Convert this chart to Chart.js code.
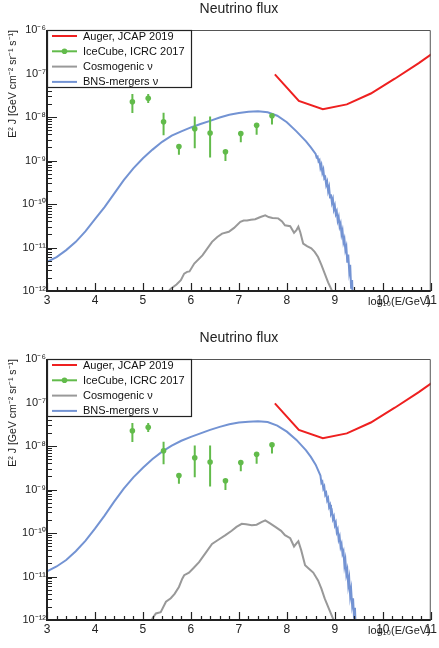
<!DOCTYPE html>
<html>
<head>
<meta charset="utf-8">
<script src="https://cdn.jsdelivr.net/npm/chart.js@4.4.1/dist/chart.umd.min.js"></script>
<style>
  html, body { margin: 0; padding: 0; background: #fff; width: 439px; height: 648px; overflow: hidden; }
  canvas { position: absolute; left: 0; }
  #fluxTop { top: 0; }
  #fluxBottom { top: 329px; }
</style>
</head>
<body>
<canvas id="fluxTop" width="439" height="324"></canvas>
<canvas id="fluxBottom" width="439" height="324"></canvas>
<script>
const FONT = '"Liberation Sans", Arial, Helvetica, sans-serif';
const plotTitle = 'Neutrino flux';
const seriesLabels = ['Auger, JCAP 2019', 'IceCube, ICRC 2017', 'Cosmogenic ν', 'BNS-mergers ν'];
const seriesColors = ['#ee2020', '#62bb4b', '#999999', '#7393d3'];
const xTickValues = [3, 4, 5, 6, 7, 8, 9, 10, 11];
const yTickExponents = [-12, -11, -10, -9, -8, -7, -6];
const xAxisTitle = 'log₁₀(E/GeV)';
const yAxisTitle = 'E² J [GeV cm⁻² sr⁻¹ s⁻¹]';

// All x values are log10(E/GeV), all flux values are log10(E^2 J / (GeV cm^-2 sr^-1 s^-1))

// Auger upper limit (same in both panels)
const augerLogE    = [7.75, 8.25, 8.75, 9.25, 9.75, 10.25, 10.75, 11.25];
const augerLogFlux = [-7.02, -7.63, -7.82, -7.71, -7.46, -7.12, -6.76, -6.37];

// IceCube points with their error ranges (same in both panels)
const iceLogE    = [4.78, 5.11, 5.43, 5.75, 6.08, 6.40, 6.72, 7.04, 7.37, 7.69];
const iceLogFlux = [-7.65, -7.57, -8.11, -8.68, -8.27, -8.37, -8.80, -8.38, -8.19, -7.97];
const iceLogHigh = [-7.47, -7.47, -7.90, -8.63, -7.99, -7.99, -8.76, -8.35, -8.16, -7.94];
const iceLogLow  = [-7.91, -7.68, -8.42, -8.87, -8.72, -8.93, -9.01, -8.58, -8.41, -8.17];

// Cosmogenic neutrinos, upper panel
const cosmoTopLogE = [5.50, 5.58, 5.70, 5.79, 5.86, 5.92, 5.97, 6.07, 6.24, 6.44, 6.55, 6.65, 6.79, 6.90,
  7.03, 7.10, 7.17, 7.25, 7.34, 7.45, 7.55, 7.62, 7.70, 7.82, 7.90, 7.96, 8.07, 8.15, 8.20, 8.24,
  8.28, 8.34, 8.42, 8.51, 8.58, 8.65, 8.72, 8.79, 8.86, 8.93, 8.97];
const cosmoTopLogFlux = [-12.05, -11.95, -11.85, -11.75, -11.60, -11.56, -11.55, -11.37, -11.18, -10.87, -10.76, -10.68, -10.64, -10.55,
  -10.41, -10.38, -10.38, -10.36, -10.35, -10.30, -10.26, -10.30, -10.32, -10.33, -10.40, -10.49, -10.51, -10.66, -10.60, -10.52,
  -10.65, -10.91, -10.97, -11.02, -11.10, -11.22, -11.40, -11.60, -11.80, -11.97, -12.10];

// Cosmogenic neutrinos, lower panel
const cosmoBottomLogE = [5.15, 5.20, 5.27, 5.37, 5.48, 5.58, 5.66, 5.75, 5.82, 5.86, 5.96, 6.06, 6.17, 6.30,
  6.44, 6.58, 6.72, 6.85, 6.95, 7.06, 7.15, 7.27, 7.37, 7.47, 7.55, 7.65, 7.76, 7.88, 7.96, 8.07,
  8.15, 8.20, 8.24, 8.30, 8.38, 8.46, 8.55, 8.65, 8.72, 8.79, 8.88, 8.96, 9.00];
const cosmoBottomLogFlux = [-12.10, -11.96, -11.85, -11.82, -11.58, -11.50, -11.40, -11.24, -11.05, -10.97, -10.91, -10.80, -10.67, -10.47,
  -10.25, -10.15, -10.05, -9.95, -9.86, -9.79, -9.80, -9.82, -9.81, -9.75, -9.71, -9.78, -9.86, -9.95, -10.05, -10.12,
  -10.31, -10.24, -10.19, -10.40, -10.74, -10.82, -10.91, -11.09, -11.28, -11.51, -11.75, -11.96, -12.10];

// BNS-merger neutrinos, upper panel
const bnsTopLogE = [3.0, 3.2, 3.4, 3.6, 3.8, 4.0, 4.2, 4.4, 4.6, 4.8, 5.0, 5.2, 5.4, 5.6, 5.8, 6.0, 6.2, 6.4, 6.6, 6.8,
  7.0, 7.2, 7.4, 7.6, 7.8, 8.0, 8.2, 8.4, 8.5, 8.6,
  8.62, 8.64, 8.66, 8.68, 8.70, 8.72, 8.74, 8.76, 8.78, 8.80,
  8.82, 8.84, 8.86, 8.88, 8.90, 8.92, 8.94, 8.96, 8.98, 9.00,
  9.02, 9.04, 9.06, 9.08, 9.10, 9.12, 9.14, 9.16, 9.18, 9.20,
  9.22, 9.24, 9.26, 9.28, 9.30, 9.32, 9.34, 9.36, 9.38];
const bnsTopLogFlux = [-11.33, -11.22, -11.06, -10.87, -10.63, -10.35, -10.07, -9.76, -9.45, -9.18, -8.95, -8.75, -8.57, -8.43, -8.33, -8.24, -8.16, -8.09, -8.01, -7.95,
  -7.91, -7.88, -7.87, -7.89, -7.97, -8.12, -8.33, -8.56, -8.70, -8.85,
  -8.93, -8.91, -9.02, -8.99, -9.17, -9.10, -9.28, -9.21, -9.41, -9.38,
  -9.56, -9.49, -9.70, -9.61, -9.85, -9.78, -9.97, -9.89, -10.12, -10.04,
  -10.23, -10.17, -10.38, -10.30, -10.52, -10.45, -10.70, -10.61, -10.88, -10.80,
  -11.06, -10.98, -11.35, -11.16, -11.55, -11.40, -11.95, -11.75, -12.40];

// BNS-merger neutrinos, lower panel
const bnsBottomLogE = [3.0, 3.2, 3.4, 3.6, 3.8, 4.0, 4.2, 4.4, 4.6, 4.8, 5.0, 5.2, 5.4, 5.6, 5.8, 6.0, 6.2, 6.4, 6.6, 6.8,
  7.0, 7.2, 7.4, 7.6, 7.8, 8.0, 8.2, 8.4, 8.5, 8.6, 8.7,
  8.72, 8.74, 8.76, 8.78, 8.80, 8.82, 8.84, 8.86, 8.88, 8.90,
  8.92, 8.94, 8.96, 8.98, 9.00, 9.02, 9.04, 9.06, 9.08, 9.10,
  9.12, 9.14, 9.16, 9.18, 9.20, 9.22, 9.24, 9.26, 9.28, 9.30,
  9.32, 9.34, 9.36, 9.38, 9.40, 9.42, 9.44];
const bnsBottomLogFlux = [-10.88, -10.77, -10.62, -10.42, -10.18, -9.90, -9.60, -9.28, -8.98, -8.72, -8.50, -8.30, -8.13, -7.99, -7.88, -7.79, -7.71, -7.63, -7.56, -7.50,
  -7.46, -7.44, -7.43, -7.45, -7.53, -7.67, -7.86, -8.10, -8.25, -8.43, -8.68,
  -8.85, -8.82, -8.98, -8.93, -9.12, -9.08, -9.25, -9.20, -9.40, -9.35,
  -9.55, -9.50, -9.68, -9.62, -9.82, -9.76, -9.98, -9.92, -10.15, -10.08,
  -10.32, -10.25, -10.48, -10.42, -10.75, -10.62, -10.95, -10.85, -11.20, -11.05,
  -11.45, -11.30, -11.65, -11.50, -11.95, -11.72, -12.40];

const SUP = { '-': '⁻', '0': '⁰', '1': '¹', '2': '²', '3': '³', '4': '⁴', '5': '⁵', '6': '⁶', '7': '⁷', '8': '⁸', '9': '⁹' };
const toSup = n => String(n).split('').map(c => SUP[c] || c).join('');
const toPoints = (xs, logs) => xs.map((x, i) => ({ x: x, y: Math.pow(10, logs[i]) }));

// Title above the frame, centred on the plot area
const titlePlugin = {
  id: 'panelTitle',
  afterDraw(chart) {
    const { ctx, chartArea: a } = chart;
    ctx.save();
    ctx.fillStyle = '#222';
    ctx.font = '14px ' + FONT;
    ctx.textAlign = 'center';
    ctx.textBaseline = 'middle';
    ctx.fillText(plotTitle, (a.left + a.right) / 2, 9);
    ctx.restore();
  }
};

// Vertical error bars for the IceCube points
const errorBarPlugin = {
  id: 'errorBars',
  afterDatasetsDraw(chart, args, opts) {
    const { ctx, scales: { x, y }, chartArea: a } = chart;
    ctx.save();
    ctx.beginPath();
    ctx.rect(a.left, a.top, a.right - a.left, a.bottom - a.top);
    ctx.clip();
    ctx.strokeStyle = opts.color;
    ctx.lineWidth = 2;
    opts.xs.forEach((xv, i) => {
      const px = x.getPixelForValue(xv);
      ctx.beginPath();
      ctx.moveTo(px, y.getPixelForValue(Math.pow(10, opts.high[i])));
      ctx.lineTo(px, y.getPixelForValue(Math.pow(10, opts.low[i])));
      ctx.stroke();
    });
    ctx.restore();
  }
};

// Frame and inward tick marks
const framePlugin = {
  id: 'frameTicks',
  afterDatasetsDraw(chart) {
    const { ctx, chartArea: a, scales: { x, y } } = chart;
    ctx.save();
    ctx.strokeStyle = '#555';
    ctx.lineWidth = 1;
    ctx.beginPath();
    ctx.moveTo(a.left, a.top + 0.5);
    ctx.lineTo(a.right - 0.5, a.top + 0.5);
    ctx.lineTo(a.right - 0.5, a.bottom);
    ctx.stroke();

    ctx.strokeStyle = '#222';
    ctx.lineWidth = 2;
    ctx.beginPath();
    ctx.moveTo(a.left, a.top);
    ctx.lineTo(a.left, a.bottom);
    ctx.lineTo(a.right, a.bottom);
    ctx.stroke();

    ctx.lineWidth = 1.2;
    ctx.beginPath();
    for (let v = x.min; v <= x.max + 1e-9; v += 0.2) {
      const px = Math.round(x.getPixelForValue(v)) + 0.5;
      const major = Math.abs(v - Math.round(v)) < 1e-6;
      ctx.moveTo(px, a.bottom);
      ctx.lineTo(px, a.bottom - (major ? 8 : 4));
    }
    const eMin = Math.round(Math.log10(y.min)), eMax = Math.round(Math.log10(y.max));
    for (let e = eMin; e <= eMax; e++) {
      for (let k = 1; k <= 9; k++) {
        const val = k * Math.pow(10, e);
        if (val > y.max * 1.0001) break;
        const py = Math.round(y.getPixelForValue(val)) + 0.5;
        ctx.moveTo(a.left, py);
        ctx.lineTo(a.left + (k === 1 ? 10 : 5), py);
      }
    }
    ctx.stroke();
    ctx.restore();
  }
};

// Boxed legend in the upper-left corner of the frame
const legendPlugin = {
  id: 'boxLegend',
  afterDraw(chart) {
    const { ctx, chartArea: a } = chart;
    const sets = chart.data.datasets;
    const x0 = a.left, y0 = a.top, w = 145, h = 58;
    ctx.save();
    ctx.fillStyle = '#fff';
    ctx.fillRect(x0, y0, w, h);
    ctx.strokeStyle = '#222';
    ctx.lineWidth = 1.2;
    ctx.strokeRect(x0 + 0.5, y0 + 0.5, w - 1, h - 1);
    ctx.font = '11px ' + FONT;
    ctx.textBaseline = 'middle';
    ctx.textAlign = 'left';
    sets.forEach((ds, i) => {
      const ry = y0 + 6 + i * 15.3;
      ctx.strokeStyle = ds.borderColor;
      ctx.lineWidth = 2;
      ctx.beginPath();
      ctx.moveTo(x0 + 5, ry);
      ctx.lineTo(x0 + 30, ry);
      ctx.stroke();
      if (ds.pointRadius > 0) {
        ctx.fillStyle = ds.backgroundColor;
        ctx.beginPath();
        ctx.arc(x0 + 17.5, ry, 2.8, 0, Math.PI * 2);
        ctx.fill();
      }
      ctx.fillStyle = '#111';
      ctx.fillText(ds.label, x0 + 36, ry + 0.5);
    });
    ctx.restore();
  }
};

function lineSet(label, color, points) {
  return {
    label: label, data: points, showLine: true, borderColor: color, backgroundColor: color,
    borderWidth: 2, pointRadius: 0, pointHoverRadius: 0, tension: 0, clip: 0
  };
}

function makePanel(canvasId, bnsE, bnsF, cosE, cosF) {
  return new Chart(document.getElementById(canvasId), {
    type: 'scatter',
    data: {
      datasets: [
        lineSet(seriesLabels[0], seriesColors[0], toPoints(augerLogE, augerLogFlux)),
        {
          label: seriesLabels[1], data: toPoints(iceLogE, iceLogFlux), showLine: false,
          borderColor: seriesColors[1], backgroundColor: seriesColors[1],
          pointRadius: 2.8, pointBorderWidth: 0, pointHoverRadius: 2.8, clip: 0
        },
        lineSet(seriesLabels[2], seriesColors[2], toPoints(cosE, cosF)),
        lineSet(seriesLabels[3], seriesColors[3], toPoints(bnsE, bnsF))
      ]
    },
    options: {
      responsive: false,
      animation: false,
      devicePixelRatio: 1,
      events: [],
      layout: { padding: { top: 30, right: 6, bottom: 0, left: 0 } },
      plugins: {
        legend: { display: false },
        title: { display: false },
        tooltip: { enabled: false },
        errorBars: { xs: iceLogE, high: iceLogHigh, low: iceLogLow, color: seriesColors[1] }
      },
      scales: {
        x: {
          type: 'linear', min: 3, max: 11,
          grid: { display: false, drawTicks: false },
          border: { display: false },
          afterBuildTicks(s) { s.ticks = xTickValues.map(v => ({ value: v })); },
          afterFit(s) { s.height = 33; },
          ticks: {
            autoSkip: false, maxRotation: 0, minRotation: 0, padding: 2,
            color: '#222', font: { family: FONT, size: 12 },
            callback: v => String(v)
          },
          title: {
            display: true, text: xAxisTitle, align: 'end', color: '#222',
            font: { family: FONT, size: 11 }, padding: { top: 0, bottom: 15 }
          }
        },
        y: {
          type: 'logarithmic', min: 1e-12, max: 1e-6,
          grid: { display: false, drawTicks: false },
          border: { display: false },
          afterBuildTicks(s) { s.ticks = yTickExponents.map(e => ({ value: Math.pow(10, e) })); },
          afterFit(s) { s.width = 47; },
          ticks: {
            autoSkip: false, padding: 1,
            color: '#222', font: { family: FONT, size: 11 },
            callback: v => '10' + toSup(Math.round(Math.log10(v)))
          },
          title: {
            display: true, text: yAxisTitle, align: 'end', color: '#222',
            font: { family: FONT, size: 10.5 }, padding: { top: 7, bottom: 0 }
          }
        }
      }
    },
    plugins: [errorBarPlugin, framePlugin, legendPlugin, titlePlugin]
  });
}

makePanel('fluxTop', bnsTopLogE, bnsTopLogFlux, cosmoTopLogE, cosmoTopLogFlux);
makePanel('fluxBottom', bnsBottomLogE, bnsBottomLogFlux, cosmoBottomLogE, cosmoBottomLogFlux);
</script>
</body>
</html>
